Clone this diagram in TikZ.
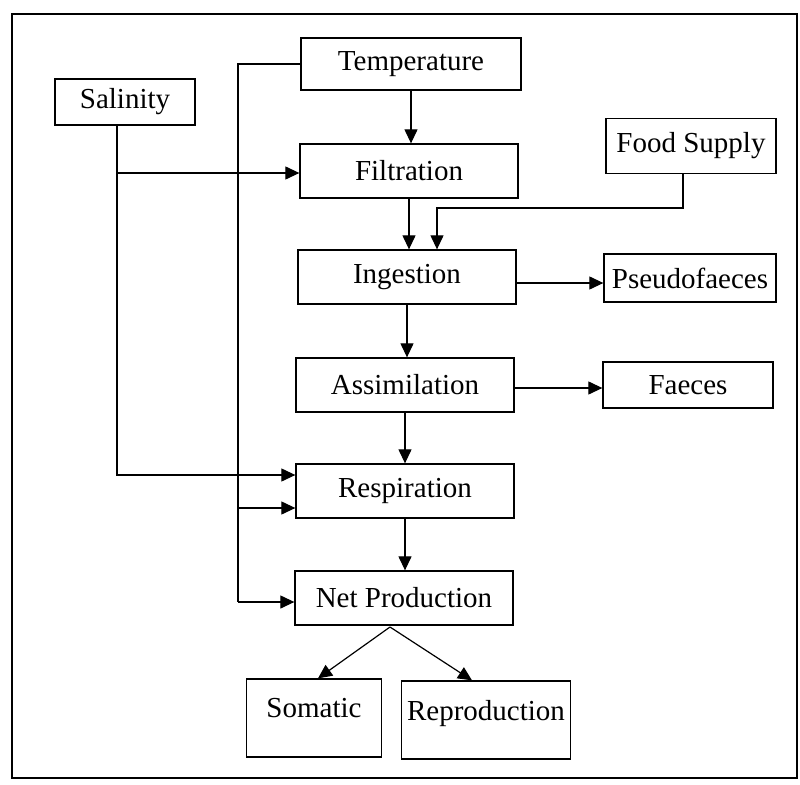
\documentclass[tikz,border=0pt]{standalone}
\usepackage{fontspec}
\setmainfont{Liberation Serif}
\usetikzlibrary{arrows.meta, positioning, calc}

\begin{document}
\begin{tikzpicture}[x=1pt, y=-1pt, font=\fontsize{29}{32}\selectfont,
  mainbox/.style = {draw, line width=1.3pt, minimum width=218pt, minimum height=54pt, align=center, inner sep=0pt},
  sidebox/.style = {draw, line width=1.3pt, minimum width=170pt, minimum height=48pt, align=center, inner sep=0pt},
  endbox/.style = {draw, line width=1.3pt, minimum height=78pt, text depth=20pt, align=center, inner sep=0pt},
  arrow/.style = {-{Triangle[length=14pt, width=13pt]}, line width=1.2pt},
  link/.style = {line width=1.2pt}
]
\useasboundingbox (0,0) rectangle (800,784);
\draw[line width=1.6pt] (12,14) rectangle (797,778);
\node[mainbox, minimum width=220pt, minimum height=52pt] (temperature) at (411,64) {Temperature};
\node[sidebox, minimum width=140pt, minimum height=46pt] (salinity) at (125,102) {Salinity};
\node[sidebox, minimum height=55pt] (food_supply) at (691,146) {Food Supply};
\node[mainbox] (filtration) at (409,171) {Filtration};
\node[mainbox] (ingestion) at (407,277) {Ingestion};
\node[sidebox, minimum width=172pt] (pseudo) at (690,278) {Pseudofaeces};
\node[mainbox] (assimilation) at (405,385) {Assimilation};
\node[sidebox, minimum height=46pt] (faeces) at (688,385) {Faeces};
\node[mainbox] (respiration) at (405,491) {Respiration};
\node[mainbox] (net_prod) at (404,598) {Net Production};
\node[endbox, minimum width=135pt] (somatic) at (314,718) {Somatic};
\node[endbox, minimum width=169pt] (reproduction) at (486,720) {Reproduction};
\coordinate (t_branch) at (238,508);
\coordinate (t_bus) at (238,602);
\coordinate (s_branch) at (117,173);
\coordinate (s_bus) at (117,475);
\coordinate (f_bus) at (437,208);
\coordinate (n_split) at (390,627);
% main column
\draw[arrow] (temperature.south) -- (temperature.south |- filtration.north);
\draw[arrow] (filtration.south) -- (filtration.south |- ingestion.north);
\draw[arrow] (ingestion.south) -- (ingestion.south |- assimilation.north);
\draw[arrow] (assimilation.south) -- (assimilation.south |- respiration.north);
\draw[arrow] (respiration.south) -- (respiration.south |- net_prod.north);
\draw[arrow] ([yshift=-6pt]ingestion.east) -- ([yshift=-6pt]ingestion.east -| pseudo.west);
\draw[arrow] ([yshift=-3pt]assimilation.east) -- ([yshift=-3pt]assimilation.east -| faeces.west);
% side inputs
\draw[link] (temperature.west) -| (t_bus);
\draw[arrow] (t_bus) -- (t_bus -| net_prod.west);
\draw[arrow] (t_branch) -- (t_branch -| respiration.west);
\draw[arrow] (salinity.south -| s_bus) -- (s_bus) -- (s_bus -| respiration.west);
\draw[arrow] (s_branch) -- (s_branch -| filtration.west);
\draw[arrow] ([xshift=-8pt]food_supply.south) |- (f_bus) -- (f_bus |- ingestion.north);
% split
\draw[arrow] (n_split) -- ([xshift=4pt]somatic.north);
\draw[arrow] (n_split) -- ([xshift=-14pt]reproduction.north);
\end{tikzpicture}
\end{document}
